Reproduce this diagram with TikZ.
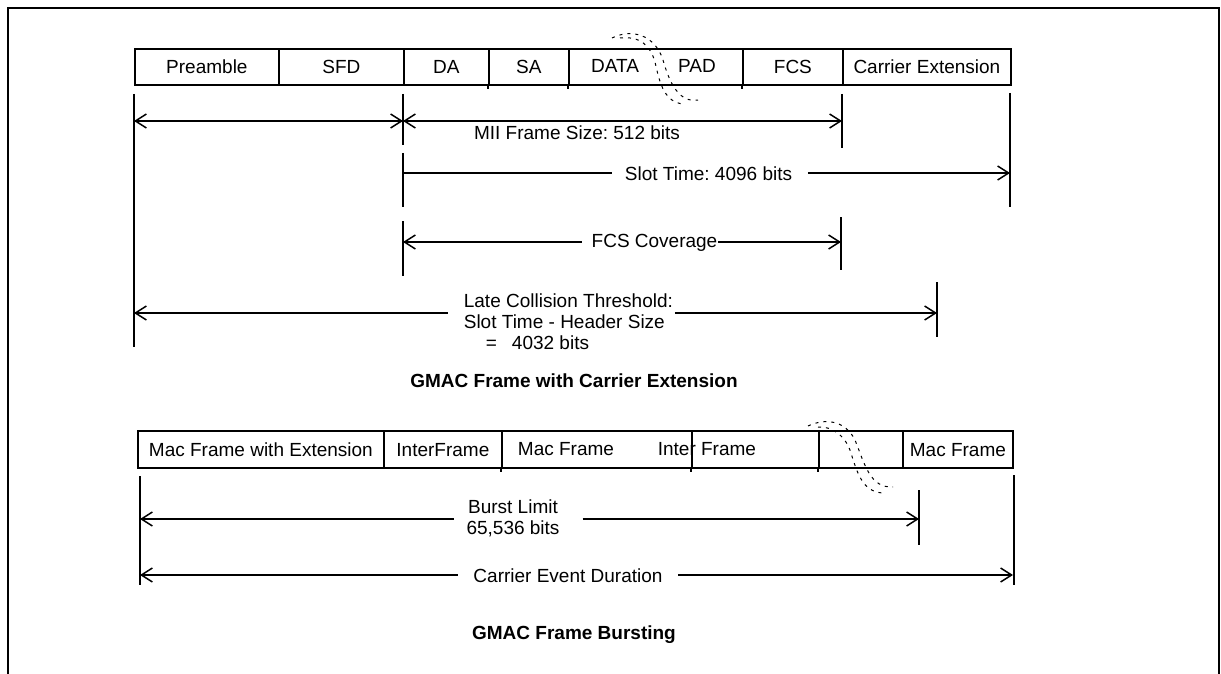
\documentclass[tikz,border=0pt]{standalone}
\usepackage{fontspec}
\setmainfont{Liberation Sans}
\usetikzlibrary{arrows.meta}
\begin{document}
\frenchspacing
\begin{tikzpicture}[x=1pt,y=-1pt,line width=1.7pt,
  every node/.style={font=\fontsize{19}{21}\selectfont,inner sep=0pt},
  cell/.style={draw,line width=1.8pt,minimum height=36pt,anchor=north west,text height=13.6pt,text depth=0pt},
  cellb/.style={cell,minimum height=37pt},
  txt/.style={anchor=base},
  txtw/.style={anchor=base west},
  captxt/.style={anchor=base,font=\fontsize{19}{21}\selectfont\bfseries},
  dimline/.style={line width=1.5pt},
  both/.style={dimline,{Straight Barb[length=11pt,width=14pt]}-{Straight Barb[length=11pt,width=14pt]}},
  tipR/.style={dimline,-{Straight Barb[length=11pt,width=14pt]}},
  tipL/.style={dimline,{Straight Barb[length=11pt,width=14pt]}-},
  ext/.style={line width=1.7pt},
  brk/.style={line width=1pt,dash pattern=on 3pt off 5pt}
]
\useasboundingbox (0,0) rectangle (1221,674);
% outer frame
\draw[line width=2pt] (8,674) -- (8,8) -- (1219,8) -- (1219,674);

% ---------- top frame ----------
\node[cell,minimum width=144pt] (pre) at (134,48) {Preamble};
\node[cell,minimum width=125pt] (sfd) at (278,48) {SFD};
\node[cell,minimum width=85pt]  (da)  at (403,48) {DA};
\node[cell,minimum width=80pt]  (sa)  at (488,48) {SA};
\node[cell,minimum width=174pt] (dp)  at (568,48) {};
\node[cell,minimum width=100pt] (fcs) at (742,48) {FCS};
\node[cell,minimum width=168pt] (ce)  at (842,48) {Carrier Extension};
\node[txt] (data) at (615,73) {DATA};
\node[txt] (pad)  at (697,73) {PAD};
\draw[line width=1.8pt] (sa.south west) -- ++(0,3);
\draw[line width=1.8pt] (dp.south west) -- ++(0,3);
\draw[line width=1.8pt] (fcs.south west) -- ++(0,3);
% break symbol
\draw[brk] (612,38) .. controls (632,28) and (655,35) .. (663,60) .. controls (670,85) and (680,103) .. (698,100);
\draw[brk] (620,38) .. controls (640,36) and (650,45) .. (655,62) .. controls (660,85) and (665,102) .. (683,104);

% extension lines
\draw[ext] (134,94) -- (134,347);
\draw[ext] (403,94) -- (403,145);
\draw[ext] (403,153) -- (403,207);
\draw[ext] (403,221) -- (403,276);
\draw[ext] (842,94) -- (842,148);
\draw[ext] (841,217) -- (841,270);
\draw[ext] (1010,93) -- (1010,207);
\draw[ext] (937,282) -- (937,337);

% MII row
\coordinate (a1L) at (134,121);
\coordinate (a1R) at (403,121);
\coordinate (a2R) at (842,121);
\draw[both] (a1L) -- (a1R);
\draw[both] (a1R) -- (a2R);
\node[txt] (mii) at (577,140) {MII Frame Size: 512 bits};

% Slot time
\coordinate (sL) at (403,173);
\coordinate (sR) at (1010,173);
\node[txt] (slot) at (708.5,180) {Slot Time: 4096 bits};
\draw[dimline] (sL) -- ([xshift=-12pt]slot.west |- sL);
\draw[tipR] ([xshift=15pt]slot.east |- sR) -- (sR);

% FCS coverage
\coordinate (fL) at (403,242);
\coordinate (fR) at (841,242);
\node[txt] (fcsl) at (654.5,247) {FCS Coverage};
\draw[tipL] (fL) -- ([xshift=-9pt]fcsl.west |- fL);
\draw[tipR] (fcsl.east |- fR) -- (fR);

% Late collision
\coordinate (lL) at (134,313);
\coordinate (lR) at (937,313);
\node[txtw] (late1) at (463,307) {Late Collision Threshold:};
\node[txtw] (late2) at (463,328) {Slot Time - Header Size};
\node[txtw] (late3) at (485,349) {=\hspace{15pt}4032 bits};
\draw[tipL] (lL) -- ([xshift=-15pt]late1.west |- lL);
\draw[tipR] ([xshift=1pt]late1.east |- lR) -- (lR);

\node[captxt] (cap1) at (574,387) {GMAC Frame with Carrier Extension};

% ---------- bottom frame ----------
\node[cellb,minimum width=246pt] (m1)  at (137,430) {Mac Frame with Extension};
\node[cellb,minimum width=118pt] (if1) at (383,430) {InterFrame};
\node[cellb,minimum width=190pt] (m2)  at (501,430) {};
\node[cellb,minimum width=127pt] (if2) at (691,430) {};
\node[cellb,minimum width=84pt]  (gp)  at (818,430) {};
\node[cellb,minimum width=110pt] (m3)  at (902,430) {Mac Frame};
\node[txt]  (m2t)  at (566,455) {Mac Frame};
\node[txtw] (if2t) at (657,455) {Inter Frame};
\draw[line width=1.8pt] (m2.south west) -- ++(0,3);
\draw[line width=1.8pt] (if2.south west) -- ++(0,3);
\draw[line width=1.8pt] (gp.south west) -- ++(0,3);
% break symbol
\draw[brk] (808,426) .. controls (825,418) and (845,420) .. (855,440) .. controls (865,465) and (870,488) .. (893,487);
\draw[brk] (818,427) .. controls (832,426) and (845,436) .. (850,450) .. controls (857,472) and (862,492) .. (883,493);

% extension lines
\draw[ext] (140,476) -- (140,585);
\draw[ext] (1014,475) -- (1014,585);
\draw[ext] (919,490) -- (919,545);

% Burst limit
\coordinate (bL) at (140,519);
\coordinate (bR) at (919,519);
\node[txt] (burst1) at (513,513) {Burst Limit};
\node[txt] (burst2) at (513,534) {65,536 bits};
\draw[tipL] (bL) -- ([xshift=-12pt]burst2.west |- bL);
\draw[tipR] ([xshift=24pt]burst1.east |- bR) -- (bR);

% Carrier event duration
\coordinate (cL) at (140,575);
\coordinate (cR) at (1013,575);
\node[txt] (ced) at (568,582) {Carrier Event Duration};
\draw[tipL] (cL) -- ([xshift=-15pt]ced.west |- cL);
\draw[tipR] ([xshift=15pt]ced.east |- cR) -- (cR);

\node[captxt] (cap2) at (574,639) {GMAC Frame Bursting};
\end{tikzpicture}
\end{document}
